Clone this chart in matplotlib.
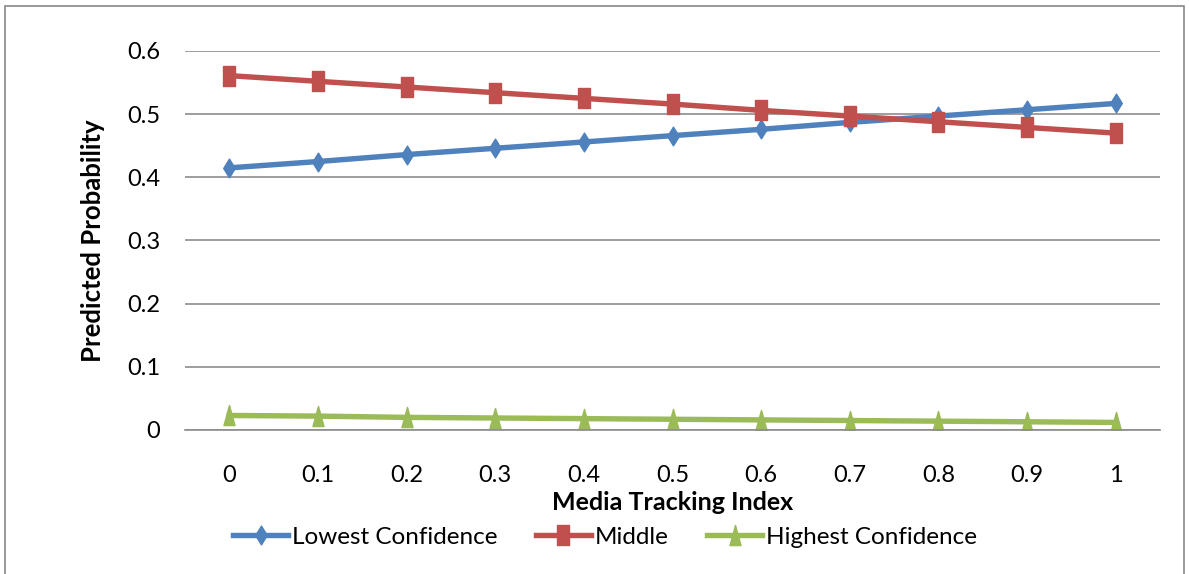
import matplotlib
matplotlib.use("Agg")
import matplotlib.pyplot as plt
from matplotlib.patches import Rectangle
from matplotlib.path import Path

x_labels = ["0", "0.1", "0.2", "0.3", "0.4", "0.5", "0.6", "0.7", "0.8", "0.9", "1"]
lowest = [0.415, 0.425, 0.436, 0.446, 0.456, 0.466, 0.476, 0.487, 0.497, 0.507, 0.517]
middle = [0.561, 0.552, 0.543, 0.534, 0.525, 0.516, 0.506, 0.497, 0.488, 0.479, 0.470]
highest = [0.023, 0.022, 0.020, 0.019, 0.018, 0.017, 0.016, 0.015, 0.014, 0.013, 0.012]
y_ticks = [0, 0.1, 0.2, 0.3, 0.4, 0.5, 0.6]
y_labels = ["0", "0.1", "0.2", "0.3", "0.4", "0.5", "0.6"]

plt.rcParams['font.family'] = ['Lato', 'DejaVu Sans']

# tall (vertically stretched) marker shapes
diamond = Path([(0, 1), (0.62, 0), (0, -1), (-0.62, 0), (0, 1)],
               [Path.MOVETO, Path.LINETO, Path.LINETO, Path.LINETO, Path.CLOSEPOLY])
square = Path([(-0.55, -1), (0.55, -1), (0.55, 1), (-0.55, 1), (-0.55, -1)],
              [Path.MOVETO, Path.LINETO, Path.LINETO, Path.LINETO, Path.CLOSEPOLY])
triangle = Path([(0, 1), (0.55, -1), (-0.55, -1), (0, 1)],
                [Path.MOVETO, Path.LINETO, Path.LINETO, Path.CLOSEPOLY])

fig = plt.figure(figsize=(11.89, 5.74), dpi=100)
fig.patches.append(Rectangle((4.5/1189, -0.05), 1179/1189, 1.05 - 5.5/574, transform=fig.transFigure,
                             fill=False, edgecolor='#888888', linewidth=1.2))
ax = fig.add_axes([185/1189, 1 - 430/574, 975/1189, 379/574])

xs = list(range(len(x_labels)))
ax.plot(xs, lowest, color='#4F81BD', lw=3.9, marker=diamond, markersize=13.5, label='Lowest Confidence')
ax.plot(xs, middle, color='#C0504D', lw=3.9, marker=square, markersize=14.5, label='Middle')
ax.plot(xs, highest, color='#9BBB59', lw=3.9, marker=triangle, markersize=14.5, label='Highest Confidence')

ax.set_xlim(-0.5, len(x_labels) - 0.5)
ax.set_ylim(0, 0.6)
ax.set_yticks(y_ticks)
ax.set_yticklabels(y_labels)
ax.set_xticks(xs)
ax.set_xticklabels(x_labels)
ax.grid(axis='y', color='#8C8C8C', lw=1.2)
ax.set_axisbelow(True)
for s in ['top', 'right', 'left']:
    ax.spines[s].set_visible(False)
ax.spines['bottom'].set_color('#8C8C8C')
ax.spines['bottom'].set_linewidth(1.2)
ax.tick_params(axis='y', length=0, labelsize=17, pad=18)
ax.tick_params(axis='x', length=0, labelsize=17, pad=25)
ax.set_xlabel('Media Tracking Index', fontsize=18, fontweight='bold', labelpad=4)
ax.set_ylabel('Predicted Probability', fontsize=18.5, fontweight='bold', labelpad=16)

fig.legend(loc='center', bbox_to_anchor=(605/1189, 1 - 537/574), ncol=3, frameon=False,
           fontsize=17.5, handlelength=2.25, columnspacing=1.6, handletextpad=0.15)

fig.savefig('out.png', dpi=100)
